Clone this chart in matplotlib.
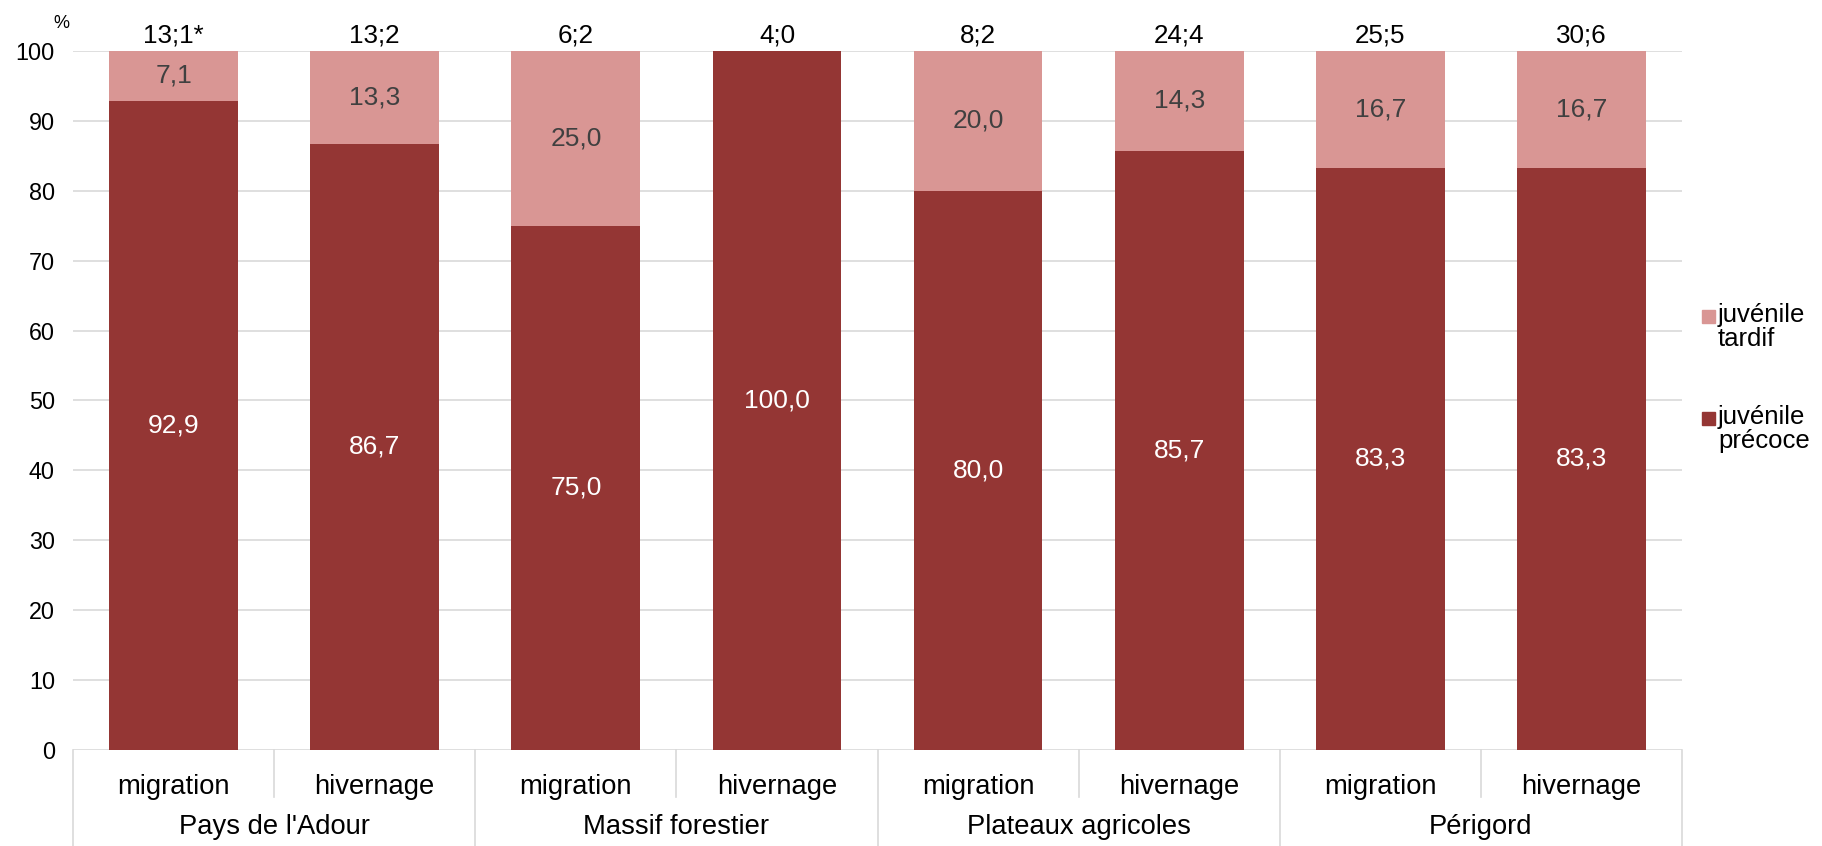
import matplotlib
matplotlib.use("Agg")
import matplotlib.pyplot as plt
from matplotlib.patches import Rectangle

# Data: share of early / late juveniles by region and season (%)
regions = ["Pays de l'Adour", "Massif forestier", "Plateaux agricoles", "Périgord"]
seasons = ["migration", "hivernage"]
precoce = [92.9, 86.7, 75.0, 100.0, 80.0, 85.7, 83.3, 83.3]
tardif = [7.1, 13.3, 25.0, 0.0, 20.0, 14.3, 16.7, 16.7]
effectifs = ["13;1*", "13;2", "6;2", "4;0", "8;2", "24;4", "25;5", "30;6"]
yticks = [0, 10, 20, 30, 40, 50, 60, 70, 80, 90, 100]
series_names = ["juvénile\ntardif", "juvénile\nprécoce"]

DARK = "#943634"
LIGHT = "#D99694"
GRID = "#D9D9D9"

plt.rcParams["font.family"] = ["Liberation Sans", "DejaVu Sans"]

W, H = 1822, 846
fig = plt.figure(figsize=(W / 100, H / 100), dpi=100)
ax = fig.add_axes([73 / W, 1 - 750 / H, (1682 - 73) / W, (750 - 51) / H])

n = len(precoce)
x = list(range(n))
bw = 0.64

ax.bar(x, precoce, width=bw, color=DARK, zorder=3)
ax.bar(x, tardif, width=bw, bottom=precoce, color=LIGHT, zorder=3)

def fmt(v):
    return f"{v:.1f}".replace(".", ",")

for i in range(n):
    ax.text(i, precoce[i] / 2, fmt(precoce[i]), ha="center", va="center",
            color="white", fontsize=19, zorder=4)
    if tardif[i] > 0:
        ax.text(i, precoce[i] + tardif[i] / 2, fmt(tardif[i]), ha="center",
                va="center", color="#404040", fontsize=19, zorder=4)
    ax.text(i, precoce[i] + tardif[i] + 2.15, effectifs[i], ha="center",
            va="center", color="black", fontsize=18.7, clip_on=False)

ax.set_xlim(-0.5, n - 0.5)
ax.set_ylim(0, 100)
ax.set_yticks(yticks)
ax.set_yticklabels([str(t) for t in yticks], fontsize=16.8)
ax.tick_params(axis="y", length=0, pad=13)
ax.set_xticks([])
for sp in ax.spines.values():
    sp.set_visible(False)
for t in yticks:
    ax.axhline(t, color=GRID, lw=1.2, zorder=1)

# multi-level category axis
px = 100 / 699.0  # data units per pixel in y
y_season = -(787 - 750) * px
y_region = -(827 - 750) * px
y_minor_end = -(797 - 750) * px
y_bottom = -(H - 750) * px

for i in range(n):
    ax.text(i, y_season, seasons[i % 2], ha="center", va="center",
            fontsize=19.7, clip_on=False)
for g, name in enumerate(regions):
    ax.text(2 * g + 0.5, y_region, name, ha="center", va="center",
            fontsize=19.7, clip_on=False)
    ax.plot([2 * g + 0.5, 2 * g + 0.5], [0, y_minor_end], color=GRID,
            lw=1.2, clip_on=False)
for g in range(len(regions) + 1):
    xs = 2 * g - 0.5
    ax.plot([xs, xs], [0, y_bottom], color=GRID, lw=1.2, clip_on=False)

fig.text(61 / W, 1 - 24 / H, "%", ha="center", va="center", fontsize=13)

# legend
legend_items = [(series_names[0], LIGHT, 316), (series_names[1], DARK, 418)]
for label, col, yc in legend_items:
    fig.patches.append(Rectangle((1702 / W, 1 - (yc + 7) / H), 13 / W, 13 / H,
                                 transform=fig.transFigure, color=col))
    fig.text(1718 / W, 1 - (yc - 13) / H, label, ha="left", va="top",
             fontsize=18.5, linespacing=1.0)

fig.savefig("out.png", dpi=100, facecolor="white")
